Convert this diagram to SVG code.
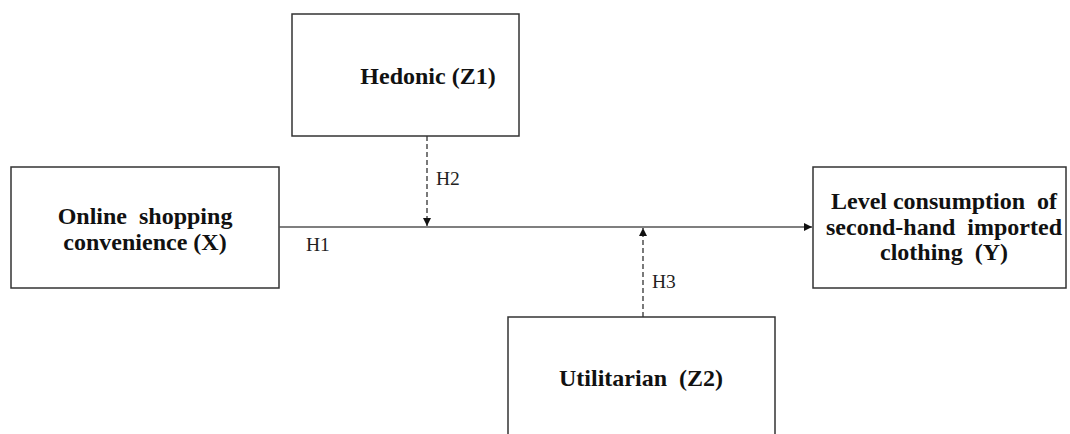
<svg xmlns="http://www.w3.org/2000/svg" width="1070" height="434" viewBox="0 0 1070 434">
<defs>
<style>
.box{fill:#fff;stroke:#333;stroke-width:1.5}
.t{font-family:"Liberation Serif","Times New Roman",serif;font-weight:bold;font-size:24px;fill:#111;text-anchor:middle;white-space:pre}
.l{font-family:"Liberation Serif","Times New Roman",serif;font-size:19.5px;fill:#222}
.ln{stroke:#555;stroke-width:1.5;fill:none}
.d{stroke:#333;stroke-width:1.3;fill:none;stroke-dasharray:5,3}
</style>
<marker id="ah" viewBox="0 0 10 10" refX="10" refY="5" markerWidth="8" markerHeight="8" markerUnits="userSpaceOnUse" orient="auto">
<path d="M0,0 L10,5 L0,10 z" fill="#111"/>
</marker>
</defs>
<rect width="1070" height="434" fill="#fff"/>
<g id="hedonic">
<rect class="box" x="292" y="14" width="227" height="122"/>
<text class="t" x="428" y="84">Hedonic (Z1)</text>
</g>
<g id="online">
<rect class="box" x="11" y="167" width="268" height="121"/>
<text class="t" x="145" y="224">Online  shopping</text>
<text class="t" x="145" y="250">convenience (X)</text>
</g>
<g id="level">
<rect class="box" x="813" y="167" width="253" height="121"/>
<text class="t" x="944" y="209">Level consumption  of</text>
<text class="t" x="944" y="235">second-hand  imported</text>
<text class="t" x="944" y="260">clothing  (Y)</text>
</g>
<g id="utilitarian">
<rect class="box" x="508" y="317" width="267" height="130"/>
<text class="t" x="641" y="386">Utilitarian  (Z2)</text>
</g>
<g id="connectors">
<line class="ln" x1="279" y1="227" x2="812" y2="227" marker-end="url(#ah)"/>
<line class="d" x1="427" y1="136" x2="427" y2="226" marker-end="url(#ah)"/>
<line class="d" x1="643" y1="317" x2="643" y2="228" marker-end="url(#ah)"/>
<text class="l" x="306" y="251">H1</text>
<text class="l" x="436" y="185">H2</text>
<text class="l" x="652" y="288">H3</text>
</g>
</svg>
